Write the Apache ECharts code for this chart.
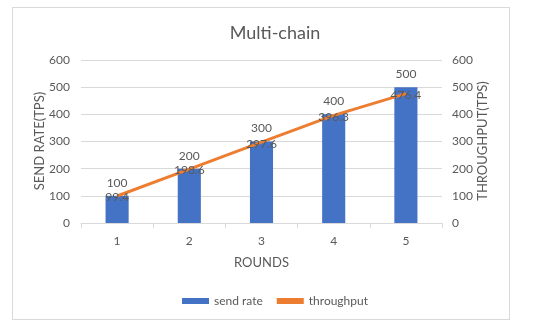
<!DOCTYPE html>
<html><head><meta charset="utf-8">
<script src="https://cdn.jsdelivr.net/npm/echarts@6/dist/echarts.min.js"></script>
<style>html,body{margin:0;padding:0;background:#fff}#c{width:550px;height:328px}
#frame{position:absolute;left:12px;top:7px;width:498px;height:313px;border:1px solid #d9d9d9;box-sizing:border-box;pointer-events:none}</style>
</head><body><div id="c"></div><div id="frame"></div>
<script>
const categories = ['1','2','3','4','5'];
const sendRate = [100, 200, 300, 400, 500];
const throughput = [99.4, 198.6, 297.6, 396.3, 476.4];
const leftAxisName = 'SEND RATE(TPS)';
const rightAxisName = 'THROUGHPUT(TPS)';
const txt = '#595959';
const font = 'Lato';
const chart = echarts.init(document.getElementById('c'), null, {renderer:'canvas'});
chart.setOption({
  animation:false,
  textStyle:{fontFamily:font,color:txt},
  title:{text:'Multi-chain',left:'center',top:19,textStyle:{fontFamily:font,fontSize:18,fontWeight:'normal',color:txt}},
  legend:{bottom:16,left:'center',itemGap:14,textStyle:{fontFamily:font,fontSize:12,color:txt},
    data:[{name:'send rate',icon:'rect',itemStyle:{color:'#4472C4'}},{name:'throughput',icon:'rect'}],
    itemWidth:27,itemHeight:6},
  graphic:[
    {type:'text',x:40,y:141,rotation:Math.PI/2,style:{text:leftAxisName,fill:txt,font:'13px Lato',align:'center',verticalAlign:'middle'}},
    {type:'text',x:483,y:141,rotation:Math.PI/2,style:{text:rightAxisName,fill:txt,font:'13px Lato',align:'center',verticalAlign:'middle'}}
  ],
  grid:{left:81,right:108,top:60,bottom:105,containLabel:false},
  xAxis:{type:'category',data:categories,name:'ROUNDS',nameLocation:'middle',nameGap:33,nameMoveOverlap:false,
    nameTextStyle:{fontFamily:font,fontSize:13,color:txt},
    axisLine:{lineStyle:{color:'#d9d9d9'}},axisTick:{show:true,length:5,lineStyle:{color:'#d9d9d9'}},
    axisLabel:{color:txt,fontSize:12,fontFamily:font,margin:12}},
  yAxis:[
    {type:'value',min:0,max:600,interval:100,
     axisLabel:{color:txt,fontSize:12,fontFamily:font,margin:11},
     splitLine:{lineStyle:{color:'#d9d9d9'}},axisLine:{show:false},axisTick:{show:false}},
    {type:'value',min:0,max:600,interval:100,
     axisLabel:{color:txt,fontSize:12,fontFamily:font,margin:10},
     splitLine:{show:false},axisLine:{show:false},axisTick:{show:false}}
  ],
  series:[
    {name:'send rate',type:'bar',data:sendRate,barWidth:'32%',itemStyle:{color:'#4472C4'},
     label:{show:true,position:'top',distance:7,color:txt,fontSize:12,fontFamily:font}},
    {name:'throughput',type:'line',data:throughput,yAxisIndex:1,symbol:'circle',symbolSize:1,showSymbol:true,
     lineStyle:{color:'#ED7D31',width:3},itemStyle:{color:'#ED7D31'},
     label:{show:true,position:'top',distance:0,offset:[0,8],color:txt,fontSize:12,fontFamily:font}}
  ]
});
</script></body></html>
